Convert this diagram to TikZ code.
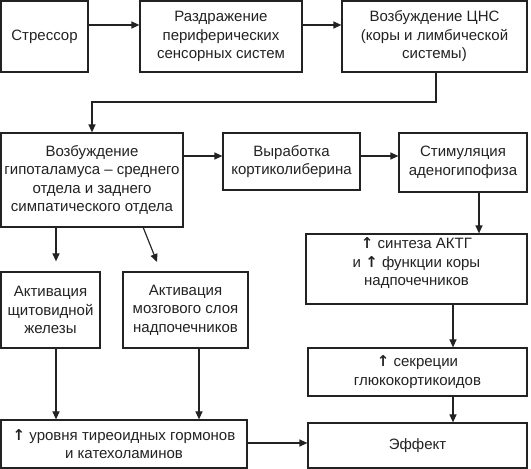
\documentclass[tikz,border=0pt]{standalone}
\usepackage{fontspec}
\setmainfont{Liberation Sans}
\newfontfamily\arrowfont{DejaVu Sans}
\usetikzlibrary{arrows.meta}
\definecolor{ink}{HTML}{222222}
\newcommand{\upar}{{\arrowfont\bfseries ↑}}
\tikzset{
  box/.style={draw=ink, line width=1.2pt, inner sep=0pt, align=center,
    font=\fontsize{15}{18.5}\selectfont, text=ink},
  arr/.style={draw=ink, line width=1.2pt, -{Triangle[length=8pt,width=7pt]}},
}
% place a box by its pixel corners: left, top, right, bottom
\newcommand{\pbox}[6]{%
  \node[box, minimum width={#4-#2}, minimum height={#5-#3}] (#1)
    at ({(#2+#4)/2},{469-(#3+#5)/2}) {#6};}
\begin{document}
\begin{tikzpicture}[x=1pt,y=1pt]
\useasboundingbox (0,0) rectangle (531,469);
\pbox{b1}{1}{1}{88}{72}{Стрессор}
\pbox{b2}{140}{1}{302}{72}{Раздражение\\периферических\\сенсорных систем}
\pbox{b3}{342}{1}{527}{72}{Возбуждение ЦНС\\(коры и лимбической\\системы)}
\pbox{b4}{1}{133}{183}{227}{Возбуждение\\гипоталамуса – среднего\\отдела и заднего\\симпатического отдела}
\pbox{b5}{223}{133}{360}{190}{Выработка\\кортиколиберина}
\pbox{b6}{399}{133}{527}{192}{Стимуляция\\аденогипофиза}
\pbox{b7}{306}{234}{527}{304}{\upar{} синтеза АКТГ\\и \upar{} функции коры\\надпочечников\\[-4pt]\mbox{}}
\pbox{b8}{1}{272}{100}{348}{Активация\\щитовидной\\железы}
\pbox{b9}{123}{272}{248}{348}{Активация\\мозгового слоя\\надпочечников}
\pbox{b10}{308}{348}{527}{396}{\upar{} секреции\\глюкокортикоидов}
\pbox{b11}{1}{420}{247}{468}{\upar{} уровня тиреоидных гормонов\\и катехоламинов}
\pbox{b12}{308}{423}{527}{468}{Эффект}
% helper coordinates (pixel positions of connector lines)
\coordinate (yA) at (0,{469-25});
\coordinate (yB) at (0,{469-156});
\coordinate (yC) at (0,{469-443});
\coordinate (k0) at (436,0);
\coordinate (k1) at (92,{469-102});
\coordinate (xL) at (56,0);
\coordinate (xM) at (199,0);
\coordinate (xR) at (479,0);
\coordinate (xS) at (453,0);
\coordinate (dA) at (143,{469-227});
\coordinate (dB) at (157,{469-262});
% connectors
\draw[arr] (b1.east |- yA) -- (b2.west |- yA);
\draw[arr] (b2.east |- yA) -- (b3.west |- yA);
\draw[arr] (k0 |- b3.south) |- (k1) -- (k1 |- b4.north);
\draw[arr] (b4.east |- yB) -- (b5.west |- yB);
\draw[arr] (b5.east |- yB) -- (b6.west |- yB);
\draw[arr] (xR |- b6.south) -- (xR |- b7.north);
\draw[arr, shorten >=10pt] (xL |- b4.south) -- (xL |- b8.north);
\draw[arr] (dA) -- (dB);
\draw[arr] (xS |- b7.south) -- (xS |- b10.north);
\draw[arr] (xS |- b10.south) -- (xS |- b12.north);
\draw[arr] (xL |- b8.south) -- (xL |- b11.north);
\draw[arr] (xM |- b9.south) -- (xM |- b11.north);
\draw[arr] (b11.east |- yC) -- (b12.west |- yC);
\end{tikzpicture}
\end{document}
